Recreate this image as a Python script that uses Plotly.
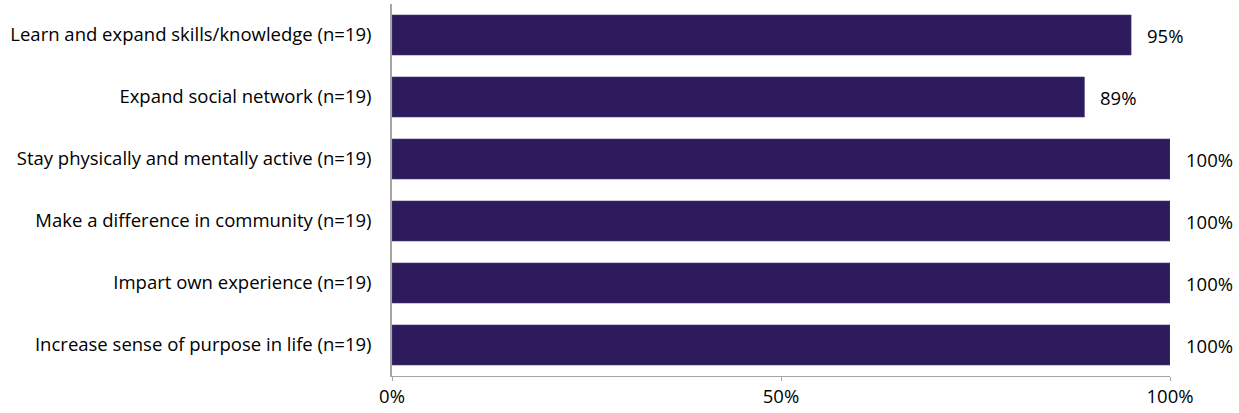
import plotly.graph_objects as go

categories = [
    "Learn and expand skills/knowledge (n=19)",
    "Expand social network (n=19)",
    "Stay physically and mentally active (n=19)",
    "Make a difference in community (n=19)",
    "Impart own experience (n=19)",
    "Increase sense of purpose in life (n=19)",
]
values = [0.95, 0.89, 1.00, 1.00, 1.00, 1.00]
value_labels = ["95%", "89%", "100%", "100%", "100%", "100%"]
x_ticks = [0, 0.5, 1.0]
x_tick_labels = ["0%", "50%", "100%"]

FONT = "'Open Sans', sans-serif"
FS = 18.5
BAR = "#2D1B5E"
AXIS = "#A6A6A6"

fig = go.Figure()
fig.add_trace(go.Bar(
    y=categories, x=values, orientation="h",
    marker=dict(color=BAR, line=dict(color="#4A3D7A", width=0.6)),
    hoverinfo="skip",
))

for c, v, t in zip(categories, values, value_labels):
    fig.add_annotation(x=v, y=c, text=t, showarrow=False, xanchor="left",
                       xshift=14, font=dict(family=FONT, size=FS, color="#000000"))

fig.update_layout(
    width=1239, height=413,
    margin=dict(l=392, r=69, t=4, b=37),
    paper_bgcolor="white", plot_bgcolor="white",
    bargap=0.355,
    showlegend=False,
    font=dict(family=FONT, size=FS, color="#000000"),
    xaxis=dict(range=[0, 1], tickvals=x_ticks, ticktext=x_tick_labels,
               showgrid=False, zeroline=False, showline=True, linecolor=AXIS,
               linewidth=1, ticks="outside", ticklen=4, tickcolor=AXIS,
               tickfont=dict(family=FONT, size=FS, color="#000000")),
    yaxis=dict(autorange="reversed", showgrid=False, zeroline=False,
               showline=True, linecolor=AXIS, linewidth=1.5, ticks="",
               ticklabelstandoff=15,
               tickfont=dict(family=FONT, size=FS, color="#000000")),
)

fig.write_html("out.html")
